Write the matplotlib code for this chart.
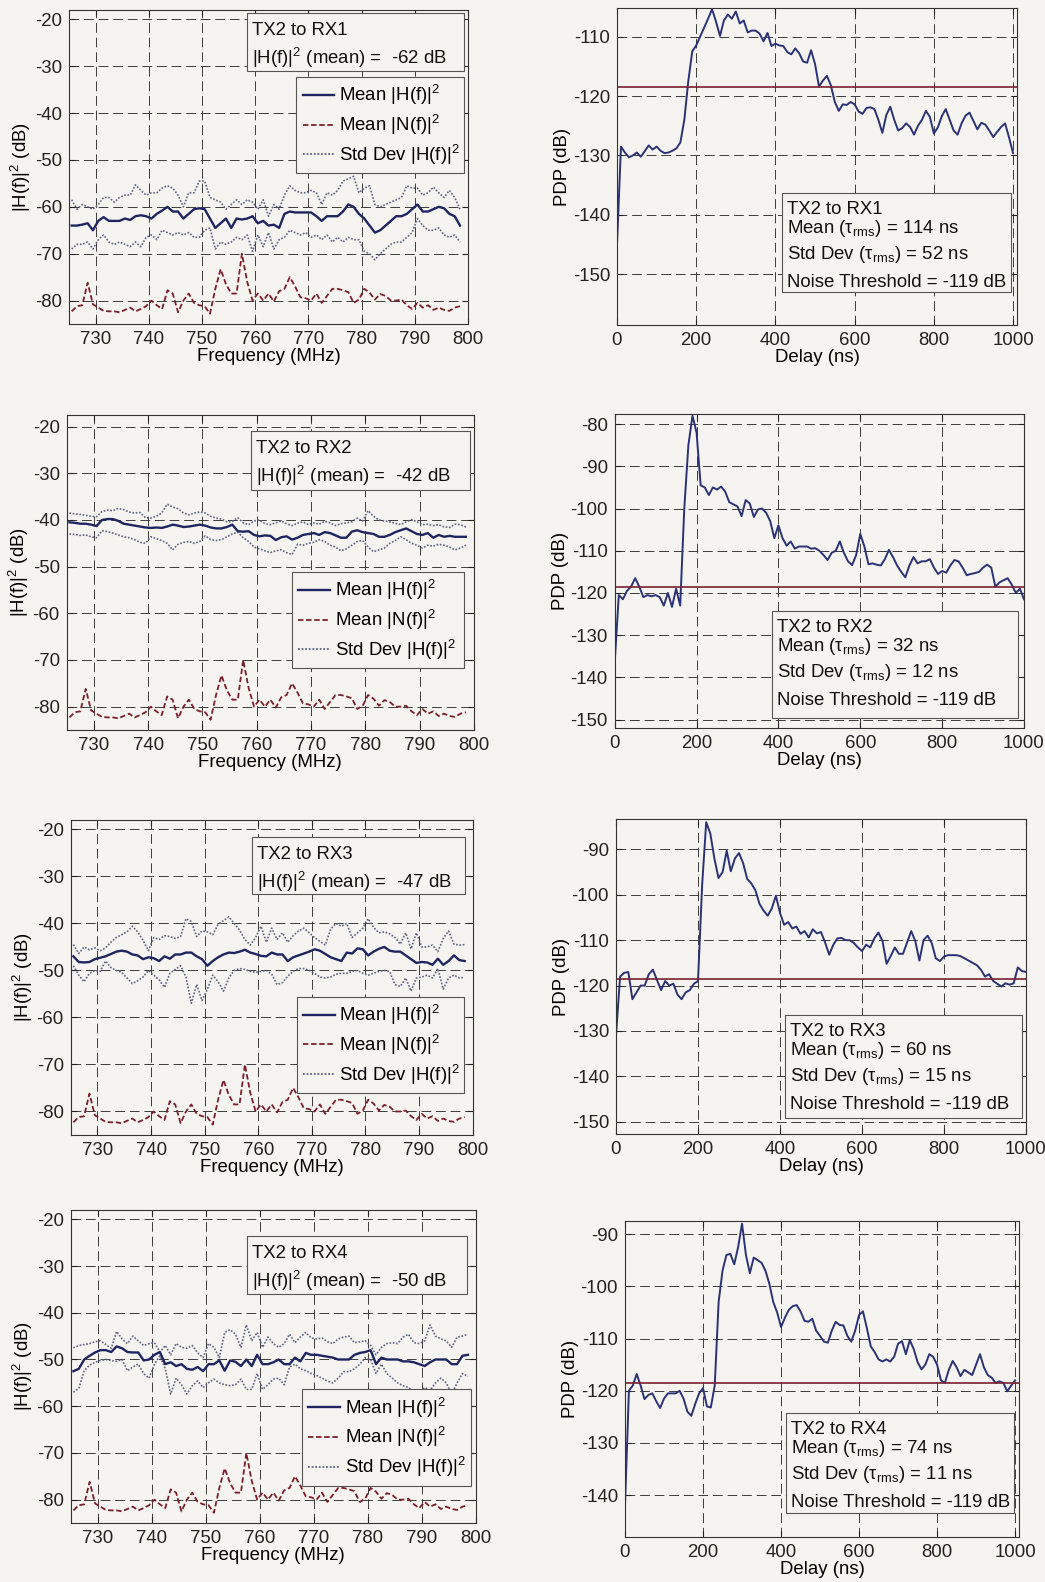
import numpy as np
import matplotlib
matplotlib.use("Agg")
import matplotlib.pyplot as plt
from matplotlib.lines import Line2D
from matplotlib.patches import Rectangle

plt.rcParams['font.family'] = ['Liberation Sans', 'DejaVu Sans']
plt.rcParams['mathtext.fontset'] = 'custom'
plt.rcParams['mathtext.rm'] = 'Liberation Sans'
plt.rcParams['mathtext.it'] = 'Liberation Sans'
plt.rcParams['mathtext.sf'] = 'Liberation Sans'
plt.rcParams['mathtext.default'] = 'regular'
plt.rcParams['axes.unicode_minus'] = False

# ---------------- data ----------------
freq = np.arange(725.5, 799, 1.0)      # MHz, 74 points
delay = np.arange(0, 1001, 10)          # ns, 101 points

links = ['TX2 to RX1', 'TX2 to RX2', 'TX2 to RX3', 'TX2 to RX4']
mean_gain_db = [-62, -42, -47, -50]
tau_mean_ns = [114, 32, 60, 74]
tau_std_ns = [52, 12, 15, 11]
noise_thr_label = -119
noise_thr_level = -118.5

# mean |N(f)|^2, same in every panel
noise_mean = [-82.3, -81.2, -81.0, -76.2, -80.8, -81.5, -82.2, -82.3, -82.3, -82.5,
              -82.0, -81.5, -82.3, -81.8, -81.2, -80.0, -81.0, -81.8, -77.8, -78.5,
              -82.5, -80.0, -78.5, -80.5, -81.0, -81.2, -82.8, -77.5, -73.3, -76.5,
              -78.5, -78.5, -70.0, -76.0, -80.0, -78.5, -80.0, -78.5, -80.2, -78.0,
              -77.5, -75.0, -77.0, -79.3, -79.5, -80.0, -78.5, -80.5, -79.0, -77.5,
              -77.5, -77.8, -78.2, -80.5, -79.8, -77.5, -78.3, -79.8, -78.6, -79.0,
              -80.0, -80.0, -79.8, -81.0, -81.8, -80.5, -81.5, -81.0, -82.0, -81.5,
              -82.0, -82.2, -81.5, -81.2]

rx1_mean = [-64.0, -64.0, -63.8, -63.5, -65.0, -63.0, -62.2, -63.0, -63.0, -63.0,
            -62.5, -62.8, -62.0, -61.8, -62.0, -62.5, -61.5, -60.8, -60.0, -61.0,
            -61.0, -62.5, -61.5, -60.5, -60.3, -60.5, -62.5, -64.5, -63.5, -62.5,
            -64.5, -62.5, -62.7, -62.5, -62.0, -63.5, -63.0, -64.0, -63.8, -64.5,
            -61.5, -61.0, -61.2, -61.2, -61.2, -61.2, -62.0, -63.0, -62.0, -62.0,
            -62.0, -61.0, -59.5, -60.0, -61.5, -62.5, -64.0, -65.5, -65.0, -64.0,
            -63.0, -62.0, -62.0, -61.5, -60.5, -59.5, -61.0, -61.0, -60.5, -60.0,
            -60.3, -61.5, -62.0, -64.0]
rx1_hi = [-58.5, -60.5, -59.5, -60.0, -60.5, -59.5, -58.0, -58.0, -59.0, -58.0,
          -57.5, -57.5, -55.3, -56.5, -57.5, -57.0, -57.0, -56.0, -55.5, -56.0,
          -57.5, -60.0, -57.0, -57.0, -54.5, -54.5, -58.0, -58.5, -59.0, -60.5,
          -59.5, -58.5, -59.5, -58.5, -59.0, -60.5, -58.5, -62.0, -59.5, -60.5,
          -57.5, -55.5, -56.5, -57.0, -57.0, -56.5, -57.0, -59.5, -57.0, -57.5,
          -56.5, -54.5, -54.0, -53.5, -57.0, -56.0, -55.5, -59.5, -60.0, -59.5,
          -59.0, -58.5, -58.0, -55.5, -56.0, -56.0, -57.5, -57.0, -55.8, -57.0,
          -58.0, -56.5, -58.0, -60.5]
rx1_lo = [-69.0, -68.0, -68.0, -67.5, -69.0, -67.0, -66.0, -67.5, -68.0, -67.5,
          -68.0, -68.5, -67.5, -68.5, -66.5, -66.0, -67.0, -65.0, -65.5, -66.0,
          -65.5, -66.0, -65.5, -66.5, -66.5, -65.0, -64.5, -69.0, -67.5, -68.0,
          -67.5, -66.5, -67.0, -66.0, -69.5, -66.0, -68.5, -65.5, -69.0, -67.0,
          -66.5, -65.0, -65.5, -66.0, -65.5, -66.5, -66.0, -67.0, -66.0, -67.5,
          -66.5, -67.5, -66.5, -67.0, -67.0, -69.5, -70.0, -71.3, -70.0, -69.0,
          -68.0, -67.5, -67.5, -66.5, -65.5, -62.5, -64.0, -65.0, -65.0, -64.5,
          -66.0, -66.5, -66.0, -67.5]

rx2_mean = [-40.5, -40.6, -40.8, -40.8, -41.0, -41.3, -40.0, -39.8, -39.8, -40.2,
            -40.8, -41.0, -41.2, -41.4, -41.6, -41.7, -41.6, -41.7, -41.4, -41.0,
            -41.2, -41.5, -41.4, -41.2, -41.0, -41.2, -41.6, -41.8, -41.8, -41.5,
            -41.0, -42.4, -42.5, -42.4, -43.2, -43.5, -43.3, -43.4, -44.3, -43.7,
            -43.5, -44.2, -43.8, -43.2, -43.0, -42.8, -43.2, -42.6, -42.8, -43.3,
            -43.8, -43.8, -42.5, -42.2, -42.6, -42.8, -43.0, -43.6, -43.6, -43.2,
            -42.6, -42.2, -41.8, -42.4, -43.0, -43.2, -42.8, -43.8, -43.2, -43.6,
            -43.4, -43.6, -43.6, -43.6]
rx2_hi = [-38.5, -38.7, -38.8, -39.0, -39.2, -39.3, -38.2, -37.9, -38.0, -37.5,
          -37.8, -38.3, -38.5, -38.4, -39.5, -39.6, -39.2, -38.5, -36.6, -37.2,
          -37.6, -38.5, -38.9, -38.5, -38.3, -38.5, -39.2, -39.6, -39.8, -40.4,
          -40.3, -39.5, -40.6, -41.0, -40.2, -40.0, -40.8, -41.0, -40.6, -40.2,
          -40.8, -41.2, -40.7, -40.4, -41.0, -40.6, -40.9, -40.3, -40.6, -41.2,
          -40.8, -40.6, -40.4, -39.6, -40.2, -38.0, -39.2, -40.0, -40.2, -40.4,
          -40.7, -41.0, -40.4, -39.9, -40.4, -41.0, -40.9, -41.2, -41.0, -41.5,
          -41.6, -40.9, -41.0, -41.5]
rx2_lo = [-43.0, -43.1, -43.3, -43.2, -43.6, -43.8, -42.3, -42.5, -42.8, -43.2,
          -43.6, -43.8, -44.2, -44.8, -45.0, -43.6, -44.0, -44.4, -45.0, -46.4,
          -45.2, -44.8, -44.6, -45.0, -44.6, -43.4, -44.2, -44.4, -44.2, -43.6,
          -43.0, -42.6, -43.8, -44.6, -45.8, -46.2, -46.6, -47.0, -46.6, -46.4,
          -47.0, -47.4, -45.2, -45.4, -45.0, -44.8, -44.2, -44.6, -45.4, -45.8,
          -46.6, -46.2, -45.4, -44.6, -44.4, -45.8, -46.8, -46.4, -46.0, -45.0,
          -44.4, -43.6, -44.2, -45.0, -45.4, -46.0, -45.4, -45.6, -45.2, -45.4,
          -45.8, -46.4, -46.0, -45.4]

rx3_mean = [-47.0, -48.2, -48.3, -48.2, -47.6, -47.3, -47.0, -46.5, -46.0, -45.8,
            -46.0, -46.6, -46.8, -47.6, -47.2, -47.4, -48.0, -47.0, -47.5, -46.6,
            -46.6, -46.2, -46.2, -47.0, -47.6, -49.0, -48.0, -47.2, -46.6, -46.2,
            -46.3, -46.0, -45.6, -46.2, -46.5, -46.9, -47.0, -46.2, -46.6, -46.6,
            -48.0, -47.2, -46.8, -46.4, -46.0, -45.5, -45.8, -46.5, -47.2, -47.6,
            -48.0, -46.2, -46.4, -45.3, -45.5, -46.8, -46.0, -45.4, -45.0, -45.8,
            -46.0, -46.0, -46.8, -47.6, -48.4, -48.2, -48.3, -48.8, -47.5, -48.8,
            -48.0, -46.8, -47.8, -48.0]
rx3_hi = [-44.5, -46.4, -45.0, -45.6, -45.2, -45.8, -45.2, -44.0, -43.0, -42.4,
          -41.8, -40.6, -41.8, -43.6, -45.8, -43.0, -43.4, -42.6, -42.8, -43.2,
          -42.8, -39.0, -39.6, -42.8, -41.6, -41.8, -42.4, -40.2, -39.4, -38.6,
          -40.0, -41.4, -43.4, -44.6, -43.0, -40.6, -44.0, -41.0, -43.4, -42.0,
          -44.0, -42.6, -41.6, -41.0, -42.0, -43.0, -43.8, -44.6, -41.2, -40.0,
          -40.6, -40.0, -43.0, -42.0, -41.0, -39.0, -40.8, -42.0, -41.8, -42.2,
          -43.0, -44.4, -42.0, -45.4, -42.0, -45.0, -45.0, -44.6, -46.0, -43.2,
          -41.6, -44.4, -44.6, -44.5]
rx3_lo = [-49.0, -51.0, -52.4, -50.6, -50.0, -50.2, -48.0, -49.4, -50.0, -50.4,
          -51.6, -52.8, -52.2, -51.4, -50.0, -51.0, -52.0, -53.6, -50.6, -49.8,
          -49.0, -51.4, -57.0, -53.0, -56.4, -54.0, -51.0, -52.4, -54.4, -51.6,
          -50.0, -49.6, -49.8, -50.2, -50.4, -50.2, -50.0, -50.8, -53.0, -52.6,
          -51.2, -50.2, -49.6, -49.6, -50.0, -50.6, -51.4, -51.6, -51.4, -50.8,
          -50.6, -50.6, -50.2, -50.0, -50.6, -51.0, -50.6, -50.2, -50.0, -50.2,
          -53.0, -53.4, -51.6, -54.4, -51.6, -51.4, -51.0, -51.6, -49.6, -54.0,
          -51.6, -51.0, -51.6, -51.5]

rx4_mean = [-52.5, -52.0, -50.0, -49.2, -48.5, -48.0, -48.0, -48.4, -47.2, -47.6,
            -48.4, -48.5, -48.5, -50.2, -50.0, -49.0, -48.4, -51.0, -50.6, -51.4,
            -51.0, -52.0, -52.2, -51.6, -52.5, -51.0, -51.0, -50.2, -52.4, -50.2,
            -50.5, -51.4, -50.0, -51.4, -49.0, -51.0, -51.0, -50.6, -50.0, -51.0,
            -51.0, -49.6, -50.4, -48.6, -49.0, -49.0, -49.2, -49.4, -49.6, -50.0,
            -50.0, -50.0, -49.0, -48.6, -48.4, -48.0, -51.0, -49.6, -50.0, -50.0,
            -50.0, -50.4, -50.4, -50.6, -51.0, -51.4, -50.6, -50.0, -50.0, -50.0,
            -51.0, -51.0, -49.2, -49.0]
rx4_hi = [-47.5, -47.0, -46.8, -46.6, -46.2, -46.0, -46.8, -47.6, -44.0, -45.6,
          -46.6, -45.0, -46.0, -47.0, -46.6, -46.4, -48.4, -47.0, -49.0, -46.6,
          -47.4, -47.6, -47.0, -48.6, -49.6, -46.6, -47.4, -49.6, -44.2, -43.6,
          -44.6, -47.4, -42.6, -46.0, -44.2, -47.4, -45.2, -46.6, -47.4, -46.6,
          -44.6, -46.4, -45.2, -44.2, -45.4, -45.6, -45.4, -46.2, -46.6, -45.6,
          -45.2, -45.0, -46.4, -46.2, -46.0, -47.0, -49.0, -47.4, -46.6, -46.4,
          -46.6, -45.2, -44.6, -46.4, -46.6, -46.0, -42.6, -45.0, -45.6, -46.0,
          -47.4, -45.2, -45.0, -44.6]
rx4_lo = [-57.0, -56.2, -52.4, -51.2, -50.6, -50.2, -50.0, -50.2, -50.4, -50.0,
          -52.4, -51.6, -51.0, -53.0, -54.0, -51.0, -49.2, -52.0, -57.4, -54.0,
          -55.4, -57.4, -55.6, -54.6, -56.0, -55.0, -54.2, -55.0, -55.4, -55.6,
          -55.4, -54.2, -56.4, -56.4, -53.0, -56.4, -55.4, -54.2, -54.0, -55.4,
          -51.6, -51.0, -52.0, -52.4, -53.0, -53.4, -54.0, -54.6, -55.0, -54.0,
          -52.6, -52.6, -52.0, -51.0, -49.6, -50.0, -53.0, -51.0, -53.0, -54.0,
          -55.0, -55.6, -56.0, -57.0, -57.0, -56.0, -56.6, -55.0, -54.0, -55.0,
          -57.4, -55.0, -53.0, -53.6]

# power delay profiles (dB), one value every 10 ns
pdp_rx1 = [-145.0, -128.5, -129.5, -130.3, -130.0, -129.5, -130.2, -129.3, -128.3, -129.0,
           -128.5, -129.2, -129.6, -129.5, -129.2, -128.8, -127.8, -124.0, -117.5, -112.5,
           -111.5, -110.0, -108.5, -107.0, -105.4, -107.5, -109.9, -107.3, -106.3, -107.0,
           -105.8, -107.8, -107.3, -109.3, -109.0, -109.0, -109.5, -110.8, -109.4, -111.6,
           -111.2, -111.5, -111.6, -112.6, -113.0, -112.0, -112.8, -114.2, -114.4, -112.3,
           -114.6, -118.4, -117.4, -116.6, -118.2, -121.0, -122.5, -121.4, -121.5, -121.0,
           -121.4, -122.6, -123.0, -122.0, -121.9, -122.2, -124.0, -126.2, -123.2, -121.8,
           -124.0, -125.8, -125.4, -124.6, -125.2, -126.5, -125.0, -124.0, -122.5, -123.5,
           -126.3, -125.3, -123.4, -122.2, -124.0, -125.8, -126.5, -124.6, -123.3, -122.8,
           -124.2, -125.6, -124.5, -124.8, -125.8, -126.9, -126.0, -125.2, -124.6, -127.0,
           -129.6]
pdp_rx2 = [-136.5, -120.5, -121.5, -119.5, -118.5, -116.5, -118.5, -121.0, -120.5, -120.8,
           -120.5, -121.0, -123.0, -120.0, -123.3, -119.0, -123.0, -100.0, -85.0, -78.0,
           -82.0, -94.5, -95.0, -96.8, -95.0, -95.5, -94.8, -96.0, -98.5, -99.0,
           -99.5, -101.8, -98.0, -98.8, -102.0, -100.2, -100.0, -101.0, -103.0, -107.0,
           -104.0, -107.0, -108.8, -107.8, -109.5, -109.0, -109.0, -109.0, -109.5, -109.4,
           -110.0, -111.0, -112.2, -110.5, -110.0, -107.8, -110.5, -112.5, -113.4, -111.0,
           -106.0, -109.0, -113.2, -113.0, -113.3, -113.5, -112.0, -109.8, -111.5, -113.5,
           -115.0, -116.3, -113.5, -111.5, -113.0, -112.5, -112.5, -112.0, -114.0, -115.5,
           -114.8, -115.2, -113.5, -112.2, -112.5, -114.0, -115.8, -115.5, -115.3, -115.0,
           -114.0, -113.3, -114.0, -118.5, -117.5, -117.0, -116.5, -118.0, -120.0, -119.0,
           -121.5]
pdp_rx3 = [-131.0, -118.0, -117.2, -117.0, -123.0, -121.5, -120.0, -120.0, -117.5, -116.5,
           -118.8, -121.0, -119.0, -120.0, -119.6, -122.0, -123.0, -121.5, -121.0, -119.6,
           -119.0, -98.0, -84.0, -86.5, -92.0, -96.3, -95.0, -90.3, -94.8, -92.0,
           -90.8, -93.0, -96.5, -97.5, -99.0, -102.0, -103.5, -104.6, -103.0, -100.2,
           -104.0, -106.6, -106.0, -107.4, -107.0, -108.6, -108.0, -109.4, -107.6, -108.5,
           -108.2, -110.5, -113.2, -111.0, -109.6, -109.5, -110.0, -110.0, -110.6, -111.6,
           -112.4, -111.0, -111.6, -109.6, -108.3, -110.2, -115.2, -113.5, -111.6, -113.0,
           -113.0, -110.5, -108.0, -110.2, -114.5, -110.0, -109.0, -110.6, -114.0, -114.6,
           -113.6, -113.3, -113.3, -113.3, -113.5, -114.0, -114.5, -115.0, -115.5, -116.5,
           -118.0, -117.5, -119.0, -119.6, -120.2, -119.5, -119.8, -119.5, -116.0, -116.8,
           -117.0]
pdp_rx4 = [-142.0, -120.0, -119.0, -116.8, -119.0, -121.6, -120.8, -120.5, -122.0, -123.3,
           -121.5, -120.5, -120.5, -120.5, -120.0, -121.5, -124.0, -124.8, -122.5, -120.5,
           -119.5, -123.0, -123.2, -119.0, -103.0, -97.0, -94.0, -93.8, -95.8, -92.5,
           -88.0, -94.0, -97.5, -94.5, -95.0, -95.5, -97.0, -99.5, -103.0, -105.0,
           -107.8, -106.0, -104.5, -103.8, -103.6, -104.8, -106.6, -106.8, -106.2, -108.5,
           -109.5, -110.6, -110.8, -108.5, -106.8, -107.4, -107.5, -109.5, -110.6, -108.5,
           -105.5, -104.8, -108.0, -111.5, -112.6, -114.0, -114.4, -114.0, -114.4, -113.5,
           -111.0, -110.5, -113.0, -110.3, -112.0, -114.5, -115.9, -115.0, -113.0, -113.5,
           -115.0, -118.0, -118.5, -116.0, -114.3, -115.5, -117.2, -116.0, -116.5, -117.0,
           -115.0, -113.0, -115.5, -117.0, -117.5, -118.5, -118.2, -118.5, -120.1, -119.0,
           -118.0]

gain_mean = [rx1_mean, rx2_mean, rx3_mean, rx4_mean]
gain_hi = [rx1_hi, rx2_hi, rx3_hi, rx4_hi]
gain_lo = [rx1_lo, rx2_lo, rx3_lo, rx4_lo]
pdps = [pdp_rx1, pdp_rx2, pdp_rx3, pdp_rx4]

# ---------------- layout (pixels) ----------------
W, H = 1045, 1582
BG = '#f6f4f0'
C_MEAN = '#1f2560'
C_NOISE = '#7a1f2b'
C_STD = '#5d6483'
C_PDP = '#2b3275'
C_THR = '#7a2030'

left_boxes = [(69, 10, 468, 324), (66.7, 415, 474, 730),
              (70.7, 820, 472.7, 1135), (70.7, 1210, 476, 1523)]
right_boxes = [(617, 8, 1017, 325), (614.7, 414, 1024, 728),
               (616, 819, 1026, 1134), (625, 1221, 1019, 1537)]
left_ylim = [(-85, -18), (-85, -17.5), (-85, -18), (-85, -18)]
right_ylim = [(-158.5, -105.2), (-152, -77.6), (-152.7, -83.3), (-148, -87.5)]
right_xlim = [1010, 1000, 1000, 1010]
right_yticks = [np.arange(-150, -109, 10), np.arange(-150, -79, 10),
                np.arange(-150, -89, 10), np.arange(-140, -89, 10)]
# boxes in axes fraction: x0, x1, y_bottom, y_top
left_note = [(0.446, 0.99, 0.806, 0.99), (0.452, 0.99, 0.762, 0.95),
             (0.452, 0.981, 0.765, 0.947), (0.436, 0.978, 0.732, 0.917)]
left_leg = [(0.569, 0.99, 0.484, 0.787), (0.553, 0.976, 0.19, 0.502),
            (0.562, 0.978, 0.148, 0.439), (0.570, 0.988, 0.125, 0.428)]
right_note = [(0.413, 0.984, 0.103, 0.415), (0.385, 0.986, 0.031, 0.374),
              (0.412, 0.99, 0.05, 0.378), (0.408, 0.987, 0.075, 0.393)]

FS = 13.4

fig = plt.figure(figsize=(W / 100, H / 100), dpi=100, facecolor=BG)


def make_axes(box):
    x0, y0, x1, y1 = box
    ax = fig.add_axes([x0 / W, 1 - y1 / H, (x1 - x0) / W, (y1 - y0) / H])
    ax.set_facecolor(BG)
    ax.set_axisbelow(True)
    ax.grid(True, linestyle=(0, (10, 5)), linewidth=0.7, color='#3c3c3c')
    ax.tick_params(direction='in', top=True, right=True, length=4,
                   labelsize=FS, colors='#222', pad=5)
    for s in ax.spines.values():
        s.set_color('#333')
        s.set_linewidth(0.8)
    return ax, (x1 - x0), (y1 - y0)


def note_box(ax, rect, lines, offsets, w_px, h_px):
    x0, x1, yb, yt = rect
    ax.add_patch(Rectangle((x0, yb), x1 - x0, yt - yb, transform=ax.transAxes,
                           fc=BG, ec='#555', lw=0.8, zorder=5))
    for line, off in zip(lines, offsets):
        ax.text(x0 + 5 / w_px, yt - off / h_px, line, transform=ax.transAxes,
                fontsize=FS, va='baseline', ha='left', zorder=6, color='#111')


leg_handles = [Line2D([], [], color=C_MEAN, lw=1.7),
               Line2D([], [], color=C_NOISE, lw=1.3, ls=(0, (3, 1.5))),
               Line2D([], [], color=C_STD, lw=1.3, ls=(0, (1, 1)))]
leg_labels = ['Mean |H(f)|$^2$', 'Mean |N(f)|$^2$', 'Std Dev |H(f)|$^2$']

for i in range(4):
    # frequency response panel
    ax, wpx, hpx = make_axes(left_boxes[i])
    ax.plot(freq, gain_hi[i], color=C_STD, lw=1.2, ls=(0, (1, 1)))
    ax.plot(freq, gain_lo[i], color=C_STD, lw=1.2, ls=(0, (1, 1)))
    ax.plot(freq, gain_mean[i], color=C_MEAN, lw=1.7)
    ax.plot(freq, noise_mean, color=C_NOISE, lw=1.3, ls=(0, (3, 1.5)))
    ax.set_xlim(725, 800)
    ax.set_ylim(*left_ylim[i])
    ax.set_xticks(np.arange(730, 801, 10))
    ax.set_yticks(np.arange(-80, -19, 10))
    ax.set_xlabel('Frequency (MHz)', fontsize=FS, labelpad=0)
    ax.set_ylabel('|H(f)|$^2$ (dB)', fontsize=FS, labelpad=1)
    note_box(ax, left_note[i],
             [links[i], '|H(f)|$^2$ (mean) =  %d dB' % mean_gain_db[i]],
             [22, 51], wpx, hpx)
    x0, x1, yb, yt = left_leg[i]
    leg = ax.legend(leg_handles, leg_labels, loc='upper left',
                    bbox_to_anchor=(x0, yb, x1 - x0, yt - yb), mode='expand',
                    borderaxespad=0, fontsize=FS, fancybox=False,
                    edgecolor='#555', facecolor=BG, framealpha=1,
                    handlelength=1.7, handletextpad=0.25, labelspacing=0.3,
                    borderpad=0.35)
    leg.get_frame().set_linewidth(0.8)

    # power delay profile panel
    ax, wpx, hpx = make_axes(right_boxes[i])
    ax.plot(delay, pdps[i], color=C_PDP, lw=1.4)
    ax.axhline(noise_thr_level, color=C_THR, lw=1.2)
    ax.set_xlim(0, right_xlim[i])
    ax.set_ylim(*right_ylim[i])
    ax.set_xticks(np.arange(0, 1001, 200))
    ax.set_yticks(right_yticks[i])
    ax.set_xlabel('Delay (ns)', fontsize=FS, labelpad=0)
    ax.set_ylabel('PDP (dB)', fontsize=FS, labelpad=1)
    note_box(ax, right_note[i],
             [links[i],
              r'Mean ($\tau_{rms}$) = %d ns' % tau_mean_ns[i],
              r'Std Dev ($\tau_{rms}$) = %d ns' % tau_std_ns[i],
              'Noise Threshold = %d dB' % noise_thr_label],
             [21, 40, 66, 94], wpx, hpx)

fig.savefig('out.png', dpi=100, facecolor=BG)
